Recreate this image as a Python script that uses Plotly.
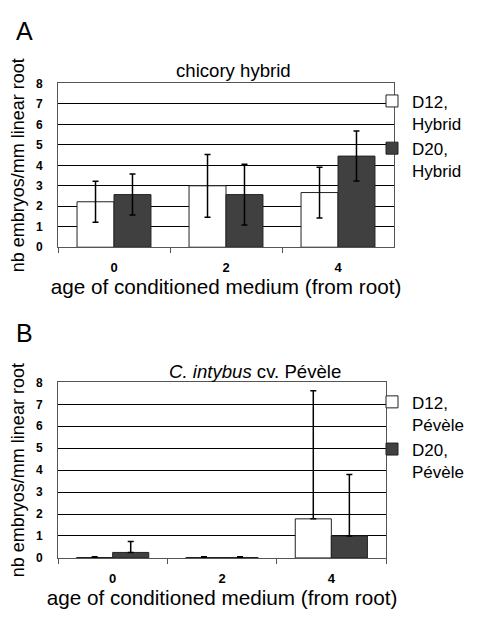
import plotly.graph_objects as go

categories = ["0", "2", "4"]
hyb_d12 = [2.22, 3.0, 2.67]
hyb_d12_err = [1.0, 1.53, 1.24]
hyb_d20 = [2.57, 2.57, 4.45]
hyb_d20_err = [1.0, 1.48, 1.22]
pev_d12 = [0.02, 0.02, 1.78]
pev_d12_err = [0.03, 0.03, 5.84]
pev_d20 = [0.25, 0.02, 1.0]
pev_d20_err = [0.5, 0.03, 2.8]
y_ticks = list(range(0, 9))

# the page body keeps its default 8px margin, so the figure is sized to fit the window
OFF = 8
W, H = 486 - 2 * OFF, 625 - 2 * OFF
FONT = "Liberation Sans, Arial, sans-serif"
WHITE = "#ffffff"
DARK = "#404040"

fig = go.Figure()

def err(vals, plus_only=False):
    d = dict(type="data", array=vals, color="black", thickness=1.5, width=3, visible=True)
    if plus_only:
        d["symmetric"] = False
        d["arrayminus"] = [0] * len(vals)
    return d

fig.add_trace(go.Bar(x=categories, y=hyb_d12, name="D12,<br>Hybrid", marker=dict(color=WHITE, line=dict(color="#222", width=1)),
                     error_y=err(hyb_d12_err), xaxis="x", yaxis="y", legend="legend"))
fig.add_trace(go.Bar(x=categories, y=hyb_d20, name="D20,<br>Hybrid", marker=dict(color=DARK, line=dict(color="#222", width=1)),
                     error_y=err(hyb_d20_err), xaxis="x", yaxis="y", legend="legend"))
fig.add_trace(go.Bar(x=categories, y=pev_d12, name="D12,<br>Pévèle", marker=dict(color=WHITE, line=dict(color="#222", width=1)),
                     error_y=err(pev_d12_err, True), xaxis="x2", yaxis="y2", legend="legend2"))
fig.add_trace(go.Bar(x=categories, y=pev_d20, name="D20,<br>Pévèle", marker=dict(color=DARK, line=dict(color="#222", width=1)),
                     error_y=err(pev_d20_err, True), xaxis="x2", yaxis="y2", legend="legend2"))

def px_x(v):
    return (v - OFF) / W

def px_y(v):
    return 1 - (v - OFF) / H

xa = dict(type="category", showline=True, linecolor="#555", linewidth=1, mirror=True,
          ticks="outside", tickson="boundaries", ticklen=5, tickcolor="#555", ticklabelstandoff=8,
          tickfont=dict(family=FONT, size=13, color="black", weight="bold"),
          title=dict(text="age of conditioned medium (from root)", font=dict(family=FONT, size=20.7, color="black"), standoff=2),
          showgrid=False)
ya = dict(range=[0, 8], tickvals=y_ticks, showline=True, linecolor="#555", linewidth=1, mirror=True,
          showgrid=True, gridcolor="black", gridwidth=1, ticks="", ticklabelstandoff=12,
          tickfont=dict(family=FONT, size=12, color="black", weight="bold"),
          title=dict(text="nb embryos/mm linear root", font=dict(family=FONT, size=18, color="black"), standoff=6),
          zeroline=False)

fig.update_layout(
    width=W, height=H, margin=dict(l=0, r=0, t=0, b=0),
    paper_bgcolor="white", plot_bgcolor="white",
    barmode="group", bargap=0.34, bargroupgap=0.0,
    font=dict(family=FONT, color="black"),
    xaxis=dict(xa, domain=[px_x(58), px_x(394)], anchor="y"),
    yaxis=dict(ya, domain=[px_y(245.7), px_y(78)], anchor="x"),
    xaxis2=dict(xa, domain=[px_x(58), px_x(386)], anchor="y2"),
    yaxis2=dict(ya, domain=[px_y(563.7), px_y(384)], anchor="x2"),
    legend=dict(x=px_x(372), y=px_y(78), xanchor="left", yanchor="top", font=dict(family=FONT, size=17),
                bgcolor="rgba(0,0,0,0)", itemwidth=30, valign="top", tracegroupgap=0),
    legend2=dict(x=px_x(372), y=px_y(386), xanchor="left", yanchor="top", font=dict(family=FONT, size=17),
                 bgcolor="rgba(0,0,0,0)", itemwidth=30, valign="top", tracegroupgap=0),
    annotations=[
        dict(text="A", x=px_x(14), y=px_y(24), xref="paper", yref="paper", xanchor="left", yanchor="middle",
             showarrow=False, font=dict(family=FONT, size=25)),
        dict(text="B", x=px_x(14), y=px_y(333.5), xref="paper", yref="paper", xanchor="left", yanchor="middle",
             showarrow=False, font=dict(family=FONT, size=25)),
        dict(text="chicory hybrid", x=px_x(233), y=px_y(65), xref="paper", yref="paper", xanchor="center", yanchor="middle",
             showarrow=False, font=dict(family=FONT, size=18.6)),
        dict(text="<i>C. intybus</i> cv. Pévèle", x=px_x(255), y=px_y(373), xref="paper", yref="paper", xanchor="center", yanchor="middle",
             showarrow=False, font=dict(family=FONT, size=18.6)),
    ],
)

fig.write_html("out.html")
